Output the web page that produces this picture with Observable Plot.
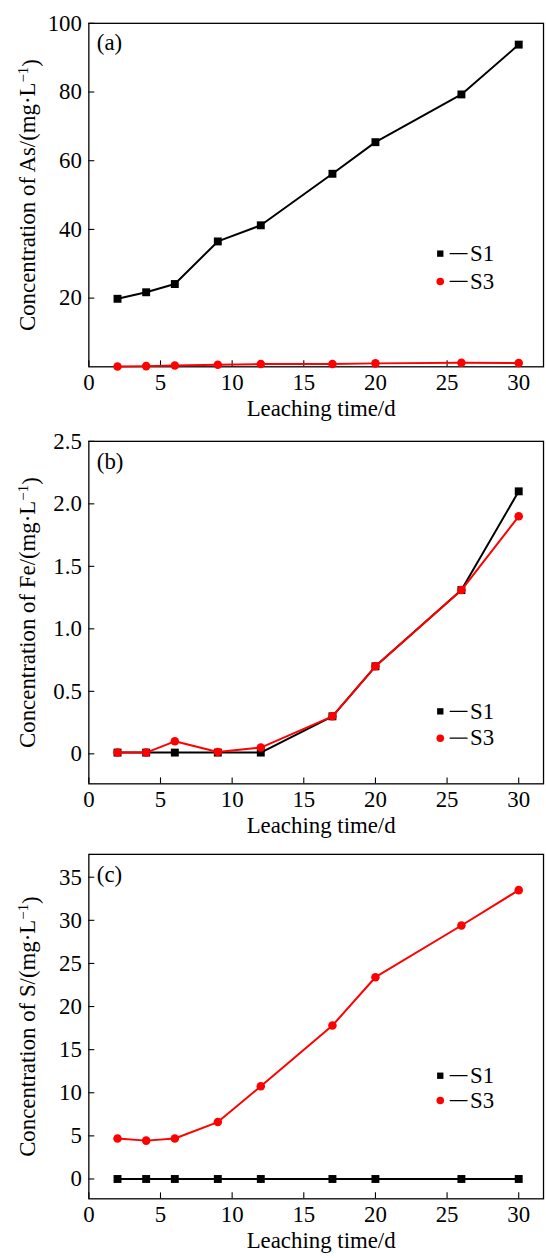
<!DOCTYPE html>
<html>
<head>
<meta charset="utf-8">
<script src="https://cdn.jsdelivr.net/npm/d3@7"></script>
<script src="https://cdn.jsdelivr.net/npm/@observablehq/plot@0.6"></script>
<style>
  html, body { margin: 0; padding: 0; background: #fff; }
  body { width: 546px; height: 1258px; overflow: hidden; position: relative; font-family: "Liberation Serif", serif; }
  .panel { position: absolute; left: 0; width: 546px; }
  .panel svg { display: block; overflow: visible; }
</style>
</head>
<body>
<div id="root"></div>
<script>
// ---- data ----
const days = [2, 4, 6, 9, 12, 17, 20, 26, 30];
const xTicks = [0, 5, 10, 15, 20, 25, 30];
const seriesNames = ["S1", "S3"];

const asS1 = [19.8, 21.7, 24.1, 36.5, 41.2, 56.2, 65.4, 79.3, 93.8];
const asS3 = [0.1, 0.2, 0.4, 0.6, 0.8, 0.8, 1.0, 1.2, 1.1];
const asTicks = [20, 40, 60, 80, 100];

const feS1 = [0.01, 0.01, 0.01, 0.01, 0.01, 0.30, 0.70, 1.31, 2.10];
const feS3 = [0.01, 0.01, 0.10, 0.015, 0.05, 0.30, 0.70, 1.31, 1.90];
const feTicks = [0, 0.5, 1.0, 1.5, 2.0, 2.5];

const sS1 = [0, 0, 0, 0, 0, 0, 0, 0, 0];
const sS3 = [4.7, 4.45, 4.7, 6.6, 10.75, 17.8, 23.4, 29.4, 33.5];
const sTicks = [0, 5, 10, 15, 20, 25, 30, 35];

const panelLabels = ["(a)", "(b)", "(c)"];
const elements = ["As", "Fe", "S"];
const xTitle = "Leaching time/d";

// ---- layout ----
const FF = "Liberation Serif";
const FS = 23;
const W = 550, ML = 89, MR = 3;
const frameW = W - ML - MR;

const panels = [
  { label: panelLabels[0], el: elements[0], s1: asS1, s3: asS3, ticks: asTicks, domain: [0, 100],
    fmt: d => String(d), top: 0, height: 420, mt: 23, mb: 51, legDy: 232, legGap: 28 },
  { label: panelLabels[1], el: elements[1], s1: feS1, s3: feS3, ticks: feTicks, domain: [-0.24, 2.5],
    fmt: d => d === 0 ? "0" : d.toFixed(1), top: 420, height: 414, mt: 21, mb: 48, legDy: 272, legGap: 27 },
  { label: panelLabels[2], el: elements[2], s1: sS1, s3: sS3, ticks: sTicks, domain: [-2.3, 37.65],
    fmt: d => String(d), top: 834, height: 424, mt: 20, mb: 57, legDy: 223, legGap: 25 }
];

const colors = { S1: "#000000", S3: "#ff0000" };
const hline = { draw(ctx, l) { ctx.moveTo(0, 0); ctx.lineTo(l, 0); } };

function makePanel(p) {
  const rows = [];
  days.forEach((d, i) => {
    rows.push({ day: d, v: p.s1[i], s: seriesNames[0] });
    rows.push({ day: d, v: p.s3[i], s: seriesNames[1] });
  });
  const s1 = rows.filter(r => r.s === "S1");
  const s3 = rows.filter(r => r.s === "S3");
  const frameH = p.height - p.mt - p.mb;
  const legX = 354; // offset from frame left
  const yLabel = "Concentration of " + p.el + "/(mg·L⁻¹)";
  const T = { fontFamily: FF, fontSize: FS };
  const legend = (name, dy, symbol, r) => [
    Plot.dot([name], { frameAnchor: "top-left", dx: legX, dy, symbol, fill: colors[name], r }),
    Plot.vector([name], { frameAnchor: "top-left", dx: legX + 10, dy, length: 17, rotate: 0, anchor: "start", shape: hline, stroke: "#000", strokeWidth: 1.3 }),
    Plot.text([name], { ...T, text: d => d, frameAnchor: "top-left", dx: legX + 30, dy, textAnchor: "start", lineAnchor: "middle" })
  ];

  const chart = Plot.plot({
    width: W,
    height: p.height,
    marginLeft: ML,
    marginRight: MR,
    marginTop: p.mt,
    marginBottom: p.mb,
    style: "font-family: 'Liberation Serif', serif; font-size: 23px; background: transparent; color: #000; overflow: visible;",
    x: { domain: [0, 31.73], label: null },
    y: { domain: p.domain, label: null },
    marks: [
      Plot.frame({ stroke: "#000", strokeWidth: 1.3 }),
      Plot.tickX(xTicks, { x: d => d, insetTop: frameH - 6, stroke: "#000", strokeWidth: 1.1 }),
      Plot.tickY(p.ticks, { y: d => d, insetRight: frameW - 6, stroke: "#000", strokeWidth: 1.1 }),
      Plot.axisX(xTicks, { ...T, tickSize: 0, tickPadding: 7, label: null }),
      Plot.axisY(p.ticks, { ...T, tickSize: 0, tickPadding: 7, tickFormat: p.fmt, label: null }),
      Plot.line(s1, { x: "day", y: "v", stroke: colors.S1, strokeWidth: 2 }),
      Plot.dot(s1, { x: "day", y: "v", symbol: "square", fill: colors.S1, r: 4.5 }),
      Plot.line(s3, { x: "day", y: "v", stroke: colors.S3, strokeWidth: 2 }),
      Plot.dot(s3, { x: "day", y: "v", symbol: "circle", fill: colors.S3, r: 4.3 }),
      // panel label
      Plot.text([p.label], { ...T, text: d => d, frameAnchor: "top-left", dx: 8, dy: 20, textAnchor: "start", lineAnchor: "middle" }),
      // y axis title
      Plot.text([yLabel], { ...T, text: d => d, frameAnchor: "left", dx: -62, rotate: -90, textAnchor: "middle", lineAnchor: "middle" }),
      // x axis title
      Plot.text([xTitle], { ...T, text: d => d, frameAnchor: "bottom", dx: 5, dy: 42, textAnchor: "middle", lineAnchor: "middle" }),
      // legend
      ...legend("S1", p.legDy, "square", 3.6),
      ...legend("S3", p.legDy + p.legGap, "circle", 3.8)
    ]
  });

  // render the −1 as a real superscript
  const ns = "http://www.w3.org/2000/svg";
  chart.querySelectorAll("text").forEach(t => {
    if (t.textContent.includes("⁻¹")) {
      const base = t.textContent.replace("⁻¹)", "");
      while (t.firstChild) t.removeChild(t.firstChild);
      const a = document.createElementNS(ns, "tspan"); a.textContent = base;
      const b = document.createElementNS(ns, "tspan"); b.textContent = "−1";
      b.setAttribute("dy", "-0.45em"); b.setAttribute("font-size", "15");
      const c = document.createElementNS(ns, "tspan"); c.textContent = ")";
      c.setAttribute("dy", "0.45em");
      t.append(a, b, c);
    }
  });

  const div = document.createElement("div");
  div.className = "panel";
  div.style.top = p.top + "px";
  div.style.height = p.height + "px";
  div.appendChild(chart);
  return div;
}

const root = document.getElementById("root");
panels.forEach(p => root.appendChild(makePanel(p)));
</script>
</body>
</html>
